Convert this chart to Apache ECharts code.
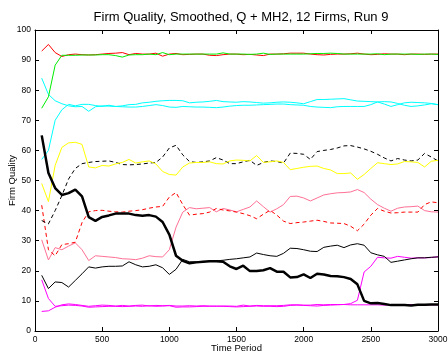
<!DOCTYPE html>
<html>
<head>
<meta charset="utf-8">
<script src="https://cdn.jsdelivr.net/npm/echarts@6/dist/echarts.min.js"></script>
<style>
  html, body { margin: 0; padding: 0; background: #fff; }
  #chart { width: 448px; height: 356px; }
</style>
</head>
<body>
<div id="chart"></div>
<script>
// Sampling times (every 50 periods)
const periods = [50,100,150,200,250,300,350,400,450,500,550,600,650,700,750,800,850,900,950,1000,
  1050,1100,1150,1200,1250,1300,1350,1400,1450,1500,1550,1600,1650,1700,1750,1800,1850,1900,1950,2000,
  2050,2100,2150,2200,2250,2300,2350,2400,2450,2500,2550,2600,2650,2700,2750,2800,2850,2900,2950,3000];

const xTicks = [0, 500, 1000, 1500, 2000, 2500, 3000];
const yTicks = [0, 10, 20, 30, 40, 50, 60, 70, 80, 90, 100];

// Smoothed quality of each firm
const redSolid = [93,95.2,92.5,91.2,91.8,92,91.8,91.7,91.8,92,92.2,92.3,92.5,91.8,92.2,92,92,92.3,91.3,92,
  92.2,91.8,91.9,92,92,91.6,91.5,91.8,92,92,91.8,91.9,91.7,91.5,92,92,92.1,92.3,92.3,92.3,
  92,91.8,91.7,91.9,92,92,92.1,92.3,92,91.8,91.9,92.1,92,92,91.8,92,92,91.9,92,92];
const greenSolid = [74,77.8,88.3,91.6,91.6,91.6,91.7,91.7,91.7,91.8,91.8,91.5,91,91.7,91.8,91.8,92,91.8,92.5,91.8,
  92,92,92,92,92,92,92,92.4,92,92,92,91.9,92,92.3,91.9,92,92,92,92,92,
  92.1,92.2,92.2,92.3,92.2,92,92,92,92,92,92.1,91.8,92,92,92,92,91.9,92,92,91.9];
const cyanHigh = [84,78.6,76.5,75.5,74.8,74.5,74.6,73,74.5,74.8,74.7,74.6,74.8,75.2,75.3,75.8,76,76.3,76.5,76.6,
  76.6,76.5,75.8,76,76.1,76.3,76.6,76.2,76.1,76,76.2,76.1,75.9,75.7,75.8,76,76.1,76,75.8,75.5,
  76.2,76.9,76.9,77,77.1,77.2,76.8,76.4,76.3,76.2,76.1,75.4,74.6,75.2,75.8,76,75.9,75.8,75.6,75.2];
const cyanLow = [57,60,70,73.5,75.3,74.8,75.3,75.3,74.9,74.6,75,74.6,74.5,74.4,74.4,74.6,74.9,75.2,74.9,74.4,
  74.3,74.6,74.5,74.4,74.4,74.3,74.2,74.4,74.7,74.9,75,75,75.1,75.2,75.3,75.4,75.4,75.2,75.1,75,
  74.6,74.4,74.3,74.2,74.5,74.6,74.6,74.6,74.6,75.2,76.1,76.2,76.1,75.6,75,74.6,74.8,75.1,75.5,75.2];
const yellowSolid = [49,43,55,61,62.5,62.7,62,54.5,54.2,55,54.8,55.5,56,57,55.8,56.2,56.5,55.5,53,52,
  51.8,54.5,55.8,56,56,56.2,55.6,55.5,56.5,56.8,56.7,56.5,58.3,56,56.2,56.5,56,53.6,54,54.4,
  54.7,54.8,54,53.5,52.3,52.3,52.5,50.4,52,54,55.9,55.6,55.3,55.5,56.3,56.2,56,54.5,56.4,56.7];
const blackDashed = [36.7,35.6,40,45,50.5,54,55.6,56,56.3,56.4,56.5,56,55.3,55.2,55.3,55.5,55.8,56,57.8,60.8,
  61.7,58.5,56.3,56,56.2,56.5,57.6,56.8,55.6,55.6,56.2,56.7,55,56,56.5,56.3,55.8,59.1,59,58.7,
  57,59.6,60,60.3,60.8,61.5,61.6,61.1,60.5,59.7,58.7,57.5,56.5,57.3,56.8,56.5,56.8,59,57.8,56.5];
const blackThick = [65,52.5,47.5,45.2,45.8,47,44.7,37.8,36.6,37.9,38.4,39,39,39,38.5,38.3,38.5,38,36.2,32,
  25,23.3,22.5,22.8,23,23.2,23.2,23,21.5,20.6,21.7,19.9,19.9,20.2,20.9,19.7,19.7,17.8,17.9,18.8,
  17.6,19,18.8,18.3,18.2,17.9,17.3,15.5,10,9.2,9.3,9,8.6,8.6,8.6,8.5,8.7,8.7,8.8,8.8];
const blackThin = [18.5,14.1,16.3,16.1,14.6,16.8,19,21.3,20.9,21.3,21.5,21.5,21.6,23,22,21.3,21.5,22,21,18.8,
  20.5,23.8,23,23,23,23.2,23.3,23.5,23.8,24,24.3,24.6,25.9,25.4,25,24.8,25.8,27.5,27.4,27,
  26.5,26.4,27.8,28.2,28.5,27.7,28.6,29,28.5,26,25.3,24.8,22.8,23.2,23.6,24,24.3,24.3,24.5,24.6];
const redDashed = [41.8,27,25,28.7,29,29.5,36,39.6,40,40.1,39.8,39.6,39.5,39.8,40,40.3,40.8,41.2,41.4,44.5,
  46,42,38.5,38.8,39,39.5,40.7,40.2,39.9,39.5,39,38.3,37.3,38.8,40.1,38.5,36.5,35.7,36,36.2,
  36.5,36.8,36.4,35.9,35.8,35.7,34.8,33.3,35.5,38.5,40.7,39.8,39.2,39.3,39.5,39.5,39.5,42,42.9,42.6];
const pinkSolid = [30.3,23.6,27.7,27,28.2,29.3,27,23.4,25,24.8,24.6,24.4,24,23.9,23.7,24.2,25,24.7,24.6,27,
  34.5,39.5,41,40.6,40.8,41,39.6,40.7,40.2,39.6,40.4,41.2,43.2,41.3,39.5,40.6,42,44.7,44.8,44.2,
  43.2,44.2,45.2,45.6,45.9,46,46.2,47,46,43.8,42,40.8,39.8,40.8,41.2,41.3,41.5,40,39.6,39.5];
const magentaRising = [17,10.8,8.2,8.4,8.6,8.5,8.3,7.9,8,8.1,8.2,8.2,8.1,8.2,8.3,8.2,8.4,8.2,8.3,8.4,
  7.9,8,8,8.1,8.2,8.2,8.3,8.2,8.1,8,8.1,8.2,8.3,8.2,8.2,8.1,8.2,8.5,8.6,8.5,
  8.4,8.3,8.5,8.6,8.7,8.8,9.1,10.2,19.6,21.5,24.5,24.3,24.2,24.8,24.5,24.2,24.3,24.3,24.4,24.7];
const magentaFlat = [6.5,6.7,7.9,8.7,9,8.8,8.5,8.2,8.4,8.6,8.5,8.3,8.5,8.3,8.5,8.6,8.3,8.5,8.4,8.5,
  8.3,8.3,8.4,8.3,8.4,8.3,8.2,8.3,8.3,8.2,8.6,8.3,8.5,8.4,8.4,8.4,8.5,8.7,8.7,8.6,
  8.6,8.8,8.7,8.8,8.8,8.8,8.7,8.7,8.7,8.7,8.7,8.6,8.7,8.8,8.7,8.8,8.7,8.7,8.7,8.7];

function pairs(vals) { return periods.map((t, i) => [t, vals[i]]); }

function line(vals, color, width, dashed) {
  return {
    type: 'line', data: pairs(vals), xAxisIndex: 0, yAxisIndex: 0,
    symbol: 'none', silent: true,
    lineStyle: { color: color, width: width, type: dashed ? [4, 3] : 'solid' }
  };
}

const FONT = 'Liberation Sans, Arial, sans-serif';
const labelFont = { fontFamily: FONT, fontSize: 8.5, color: '#000', formatter: v => String(v) };

function axisBase(extra) {
  return Object.assign({
    type: 'value',
    axisLine: { show: true, onZero: false, lineStyle: { color: '#000', width: 1 } },
    axisTick: { show: true, inside: true, length: 4, lineStyle: { color: '#000', width: 1 } },
    splitLine: { show: false }
  }, extra);
}

const chart = echarts.init(document.getElementById('chart'), null, { renderer: 'canvas' });
chart.setOption({
  animation: false,
  backgroundColor: '#fff',
  title: {
    text: 'Firm Quality, Smoothed, Q + MH2, 12 Firms, Run 9',
    left: 236, top: 6, textAlign: 'center',
    textStyle: { fontFamily: FONT, fontSize: 13, fontWeight: 'normal', color: '#000' }
  },
  grid: { left: 35, right: 10, top: 30, bottom: 25, outerBoundsMode: 'none' },
  xAxis: [
    axisBase({
      position: 'bottom', min: xTicks[0], max: xTicks[xTicks.length - 1], interval: 500,
      axisLabel: Object.assign({ margin: 4 }, labelFont),
      name: 'Time Period', nameLocation: 'middle', nameGap: 12, nameMoveOverlap: false,
      nameTextStyle: { fontFamily: FONT, fontSize: 9.5, color: '#000' }
    }),
    axisBase({
      position: 'top', min: xTicks[0], max: xTicks[xTicks.length - 1], interval: 500,
      axisLabel: { show: false }
    })
  ],
  yAxis: [
    axisBase({
      position: 'left', min: yTicks[0], max: yTicks[yTicks.length - 1], interval: 10,
      axisLabel: Object.assign({ margin: 4 }, labelFont),
      name: 'Firm Quality', nameLocation: 'middle', nameGap: 18, nameRotate: 90, nameMoveOverlap: false,
      nameTextStyle: { fontFamily: FONT, fontSize: 9.5, color: '#000' }
    }),
    axisBase({
      position: 'right', min: yTicks[0], max: yTicks[yTicks.length - 1], interval: 10,
      axisLabel: { show: false }
    })
  ],
  series: [
    line(magentaFlat, '#ff00ff', 1, false),
    line(magentaRising, '#ff00ff', 1, false),
    line(pinkSolid, '#ff7095', 1, false),
    line(redDashed, '#ff0000', 1, true),
    line(blackThin, '#000000', 1, false),
    line(blackDashed, '#000000', 1, true),
    line(yellowSolid, '#ffff00', 1, false),
    line(cyanLow, '#00ffff', 1, false),
    line(cyanHigh, '#00ffff', 1, false),
    line(redSolid, '#ff0000', 1, false),
    line(greenSolid, '#00ee00', 1, false),
    line(blackThick, '#000000', 2.5, false)
  ]
});
</script>
</body>
</html>
